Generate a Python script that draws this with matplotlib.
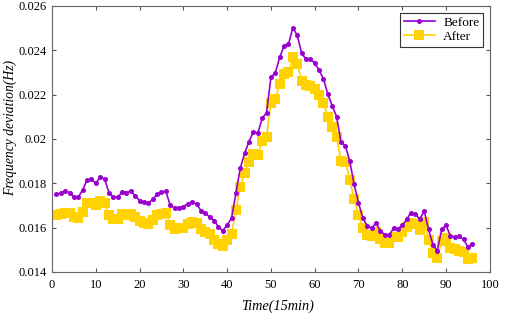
import matplotlib
matplotlib.use("Agg")
import matplotlib.pyplot as plt
from matplotlib.ticker import FuncFormatter, MultipleLocator

time = list(range(1, 97))
before = [0.01751, 0.01755, 0.01764, 0.01758, 0.01740, 0.01737, 0.01770, 0.01815, 0.01818, 0.01800,
          0.01827, 0.01820, 0.01758, 0.01737, 0.01737, 0.01760, 0.01758, 0.01764, 0.01743, 0.01722,
          0.01714, 0.01710, 0.01728, 0.01750, 0.01760, 0.01764, 0.01700, 0.01689, 0.01690, 0.01695,
          0.01708, 0.01716, 0.01708, 0.01677, 0.01666, 0.01647, 0.01632, 0.01604, 0.01586, 0.01612,
          0.01642, 0.01755, 0.01868, 0.01936, 0.01988, 0.02033, 0.02026, 0.02093, 0.02119, 0.02278,
          0.02299, 0.02368, 0.02420, 0.02427, 0.02501, 0.02469, 0.02387, 0.02360, 0.02361, 0.02342,
          0.02311, 0.02271, 0.02202, 0.02150, 0.02101, 0.01985, 0.01970, 0.01900, 0.01795, 0.01712,
          0.01642, 0.01608, 0.01598, 0.01620, 0.01585, 0.01568, 0.01565, 0.01597, 0.01594, 0.01610,
          0.01637, 0.01668, 0.01661, 0.01637, 0.01675, 0.01592, 0.01522, 0.01496, 0.01593, 0.01610,
          0.01562, 0.01558, 0.01560, 0.01547, 0.01512, 0.01525]
after = [0.01655, 0.01660, 0.01668, 0.01665, 0.01650, 0.01645, 0.01670, 0.01712, 0.01712, 0.01700,
         0.01718, 0.01712, 0.01655, 0.01640, 0.01640, 0.01660, 0.01658, 0.01662, 0.01648, 0.01632,
         0.01622, 0.01615, 0.01635, 0.01655, 0.01662, 0.01668, 0.01610, 0.01595, 0.01598, 0.01600,
         0.01615, 0.01625, 0.01620, 0.01595, 0.01578, 0.01570, 0.01545, 0.01525, 0.01518, 0.01545,
         0.01570, 0.01680, 0.01785, 0.01845, 0.01895, 0.01930, 0.01928, 0.01990, 0.02010, 0.02164,
         0.02179, 0.02248, 0.02295, 0.02300, 0.02368, 0.02337, 0.02263, 0.02244, 0.02239, 0.02224,
         0.02199, 0.02161, 0.02100, 0.02055, 0.02010, 0.01902, 0.01895, 0.01817, 0.01730, 0.01657,
         0.01598, 0.01567, 0.01560, 0.01582, 0.01548, 0.01532, 0.01530, 0.01557, 0.01557, 0.01582,
         0.01604, 0.01623, 0.01617, 0.01590, 0.01627, 0.01545, 0.01485, 0.01462, 0.01541, 0.01552,
         0.01507, 0.01503, 0.01496, 0.01488, 0.01457, 0.01465]
series_labels = ["Before", "After"]

plt.rcParams['font.family'] = ['Liberation Serif', 'DejaVu Serif']

fig = plt.figure(figsize=(5.05, 3.14), dpi=100)
ax = fig.add_axes([0.103, 0.134, 0.867, 0.847])

ax.plot(time, before, color='#9B00D0', lw=1.2, marker='o', markersize=2.6,
        label=series_labels[0], zorder=3)
ax.plot(time, after, color='#FFD200', lw=1.2, marker='s', markersize=6.5,
        markeredgewidth=0, label=series_labels[1], zorder=2)

ax.set_xlim(0, 100)
ax.set_ylim(0.014, 0.026)
ax.xaxis.set_major_locator(MultipleLocator(10))
ax.yaxis.set_major_locator(MultipleLocator(0.002))
ax.yaxis.set_major_formatter(FuncFormatter(lambda v, p: '{:g}'.format(round(v, 4))))
ax.tick_params(direction='in', top=True, right=True, labelsize=9, length=3,
               color='#555555', width=0.8)
ax.tick_params(axis='x', pad=5)
ax.tick_params(axis='y', pad=4)
for s in ax.spines.values():
    s.set_color('#666666')
    s.set_linewidth(0.8)

ax.set_xlabel('Time(15min)', fontstyle='italic', fontsize=10.3)
ax.set_ylabel('Frequency deviation(Hz)', fontstyle='italic', fontsize=9.8)
ax.xaxis.set_label_coords(0.515, -0.105)
ax.yaxis.set_label_coords(-0.08, 0.54)

leg = ax.legend(loc='upper right', fontsize=9.5, fancybox=False, edgecolor='#333333',
                framealpha=1, borderpad=0.3, handlelength=2.4, handletextpad=0.6,
                labelspacing=0.15, borderaxespad=0.5)
leg.get_frame().set_linewidth(0.8)

fig.savefig('out.png', dpi=100)
